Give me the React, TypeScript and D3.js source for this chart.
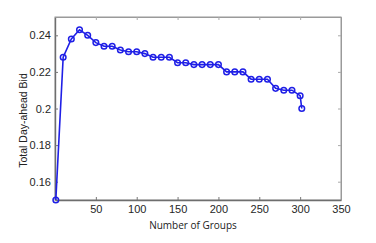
import { useEffect, useRef } from 'react';
import * as d3 from 'd3';

const groups = [1, 10, 20, 30, 40, 50, 60, 70, 80, 90, 100, 110, 120, 130, 140, 150, 160, 170, 180, 190, 200, 210, 220, 230, 240, 250, 260, 270, 280, 290, 300, 302];
const bids = [0.150, 0.228, 0.238, 0.243, 0.240, 0.236, 0.234, 0.234, 0.232, 0.231, 0.231, 0.230, 0.228, 0.228, 0.228, 0.225, 0.225, 0.224, 0.224, 0.224, 0.224, 0.220, 0.220, 0.220, 0.216, 0.216, 0.216, 0.211, 0.210, 0.210, 0.207, 0.200];
const xTicks = [50, 100, 150, 200, 250, 300, 350];
const yTicks = [0.16, 0.18, 0.2, 0.22, 0.24];

function App() {
  const ref = useRef<SVGSVGElement>(null);

  useEffect(() => {
    const svg = d3.select(ref.current);
    svg.selectAll('*').remove();
    const width = 376, height = 243;
    const margin = { top: 17, right: 35, bottom: 43, left: 55 };

    const x = d3.scaleLinear().domain([0, 350]).range([margin.left, width - margin.right]);
    const y = d3.scaleLinear().domain([0.15, 0.25]).range([height - margin.bottom, margin.top]);

    const g = svg.append('g');

    // box
    g.append('rect')
      .attr('x', x(0)).attr('y', y(0.25))
      .attr('width', x(350) - x(0)).attr('height', y(0.15) - y(0.25))
      .attr('fill', 'white').attr('stroke', '#9a9a9a').attr('stroke-width', 1);

    const bottom = g.append('g')
      .attr('transform', `translate(0,${y(0.15)})`)
      .call(d3.axisBottom(x).tickValues(xTicks).tickSizeInner(-3).tickSizeOuter(0).tickPadding(5).tickFormat(d3.format('d')));
    const left = g.append('g')
      .attr('transform', `translate(${x(0)},0)`)
      .call(d3.axisLeft(y).tickValues(yTicks).tickSizeInner(-3).tickSizeOuter(0).tickPadding(4).tickFormat((d) => String(+d)));
    const top = g.append('g')
      .attr('transform', `translate(0,${y(0.25)})`)
      .call(d3.axisTop(x).tickValues(xTicks).tickSizeInner(-3).tickSizeOuter(0).tickFormat(() => ''));
    const right = g.append('g')
      .attr('transform', `translate(${x(350)},0)`)
      .call(d3.axisRight(y).tickValues(yTicks).tickSizeInner(-3).tickSizeOuter(0).tickFormat(() => ''));

    [bottom, left].forEach((a) => {
      a.select('.domain').attr('stroke', '#6e6e6e').attr('stroke-width', 1.4);
      a.selectAll('.tick line').attr('stroke', '#777');
      a.selectAll('text').attr('font-family', 'Liberation Sans, Arial, sans-serif').attr('font-size', 11).attr('fill', '#262626');
    });
    [top, right].forEach((a) => {
      a.select('.domain').attr('stroke', '#9a9a9a');
      a.selectAll('.tick line').attr('stroke', '#aaa');
    });

    const line = d3.line<number>().x((_, i) => x(groups[i])).y((d) => y(d));
    g.append('path')
      .datum(bids)
      .attr('d', line)
      .attr('fill', 'none')
      .attr('stroke', '#1f1fe6')
      .attr('stroke-width', 1.6);

    g.selectAll('.pt')
      .data(bids)
      .enter()
      .append('circle')
      .attr('class', 'pt')
      .attr('cx', (_, i) => x(groups[i]))
      .attr('cy', (d) => y(d))
      .attr('r', 2.8)
      .attr('fill', 'none')
      .attr('stroke', '#1f1fe6')
      .attr('stroke-width', 1.5);

    g.append('text')
      .attr('x', (x(0) + x(350)) / 2 - 5)
      .attr('y', 229)
      .attr('text-anchor', 'middle')
      .attr('font-family', 'Open Sans, sans-serif')
      .attr('font-size', 10)
      .attr('fill', '#222')
      .text('Number of Groups');

    g.append('text')
      .attr('transform', `translate(27,${(y(0.15) + y(0.25)) / 2 + 12}) rotate(-90)`)
      .attr('text-anchor', 'middle')
      .attr('font-family', 'Liberation Sans, Arial, sans-serif')
      .attr('font-size', 10.5)
      .attr('fill', '#222')
      .text('Total Day-ahead Bid');
  }, []);

  return <svg ref={ref} width={376} height={243} style={{ position: 'absolute', left: 0, top: 0 }}></svg>;
}

export default App;
